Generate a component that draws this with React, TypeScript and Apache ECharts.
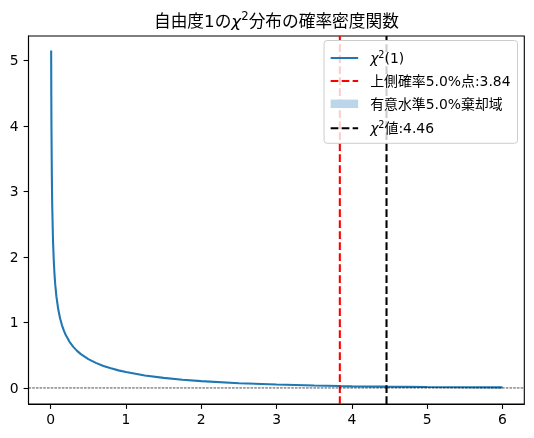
import React, { useEffect, useRef } from "react";
import * as echarts from "echarts";

// x values read along the curve and the density read at each of them
const xValues = [
  0.006, 0.008, 0.01, 0.015, 0.02, 0.03, 0.04, 0.05, 0.06, 0.075, 0.1, 0.125,
  0.15, 0.175, 0.2, 0.25, 0.3, 0.35, 0.4, 0.5, 0.6, 0.7, 0.8, 0.9, 1.0, 1.25,
  1.5, 1.75, 2.0, 2.5, 3.0, 3.5, 3.84, 4.0, 4.46, 5.0, 5.5, 6.0,
];
const densityValues = [
  5.15, 4.44, 3.97, 3.23, 2.79, 2.27, 1.96, 1.74, 1.58, 1.4, 1.2, 1.06,
  0.956, 0.874, 0.807, 0.704, 0.627, 0.566, 0.516, 0.439, 0.382, 0.336, 0.299,
  0.268, 0.242, 0.191, 0.154, 0.126, 0.104, 0.0723, 0.0514, 0.0371, 0.0298,
  0.027, 0.0203, 0.0146, 0.0109, 0.0081,
];
const criticalValue = 3.84;
const statisticValue = 4.46;
const xTicks = [0, 1, 2, 3, 4, 5, 6];
const yTicks = [0, 1, 2, 3, 4, 5];

const CURVE_NAME = "χ2(1)";
const CRIT_NAME = "上側確率5.0%点:3.84";
const REJECT_NAME = "有意水準5.0%棄却域";
const STAT_NAME = "χ2値:4.46";

const X_MIN = -0.295;
const X_MAX = 6.29;
const Y_MIN = -0.245;
const Y_MAX = 5.37;

const FONT = "'DejaVu Sans', 'Noto Sans CJK JP', sans-serif";
const BLUE = "#1f77b4";

export default function App() {
  const ref = useRef<HTMLDivElement>(null);

  useEffect(() => {
    if (!ref.current) return;
    const chart = echarts.init(ref.current, null, { renderer: "svg" });

    const curve = xValues.map((x, i) => [x, densityValues[i]]);
    const reject = curve.filter((p) => p[0] >= criticalValue);

    const legendRich = {
      t: { fontFamily: FONT, fontSize: 13.9, color: "#000", lineHeight: 17 },
      chi: {
        fontFamily: "'DejaVu Sans'",
        fontStyle: "italic",
        fontSize: 13.9,
        color: "#000",
        lineHeight: 17,
      },
      sup: {
        fontFamily: "'DejaVu Sans'",
        fontSize: 9.7,
        color: "#000",
        lineHeight: 11,
        verticalAlign: "top",
      },
    };

    const legendLabel = (name: string) => {
      if (name === CURVE_NAME) return "{chi|χ}{sup|2}{t|(1)}";
      if (name === STAT_NAME) return "{chi|χ}{sup|2}{t|値:4.46}";
      return "{t|" + name + "}";
    };

    const dashed = [7.7, 3.3];
    const noSymbol = { color: "transparent", borderColor: "transparent", borderWidth: 0 };

    chart.setOption({
      animation: false,
      grid: {
        left: 28.5,
        right: 9.7,
        top: 36,
        bottom: 34,
        show: true,
        borderColor: "#000",
        borderWidth: 1.1,
        backgroundColor: "transparent",
      },
      xAxis: {
        type: "value",
        min: X_MIN,
        max: X_MAX,
        axisLine: { show: true, onZero: false, lineStyle: { color: "#000", width: 1.1 } },
        axisTick: {
          show: true,
          inside: false,
          length: 4.9,
          lineStyle: { color: "#000", width: 1.1 },
          customValues: xTicks,
        },
        axisLabel: {
          show: true,
          customValues: xTicks,
          margin: 8,
          fontFamily: FONT,
          fontSize: 13.9,
          color: "#000",
        },
        splitLine: { show: false },
      },
      yAxis: {
        type: "value",
        min: Y_MIN,
        max: Y_MAX,
        axisLine: { show: true, onZero: false, lineStyle: { color: "#000", width: 1.1 } },
        axisTick: {
          show: true,
          inside: false,
          length: 4.9,
          lineStyle: { color: "#000", width: 1.1 },
          customValues: yTicks,
        },
        axisLabel: {
          show: true,
          customValues: yTicks,
          margin: 10,
          fontFamily: FONT,
          fontSize: 13.9,
          color: "#000",
        },
        splitLine: { show: false },
      },
      legend: {
        orient: "vertical",
        right: 16.5,
        top: 40.5,
        z: 20,
        itemWidth: 27.5,
        itemHeight: 8.5,
        itemGap: 9,
        padding: [9, 7, 8, 5.6],
        backgroundColor: "rgba(255,255,255,0.8)",
        borderColor: "#cccccc",
        borderWidth: 1,
        borderRadius: 3,
        selectedMode: false,
        textStyle: {
          fontFamily: FONT,
          fontSize: 13.9,
          color: "#000",
          padding: [0, 0, 0, 7],
          rich: legendRich,
        },
        formatter: legendLabel,
        data: [
          { name: CURVE_NAME, itemStyle: noSymbol },
          { name: CRIT_NAME, itemStyle: noSymbol },
          {
            name: REJECT_NAME,
            icon: "rect",
            itemStyle: { color: "#bbd6e9", borderWidth: 0, borderColor: "transparent" },
          },
          { name: STAT_NAME, itemStyle: noSymbol },
        ],
      },
      series: [
        {
          name: REJECT_NAME,
          type: "line",
          data: reject,
          showSymbol: false,
          symbol: "none",
          silent: true,
          z: 1,
          color: "rgba(31,119,180,0.3)",
          lineStyle: { width: 0 },
          areaStyle: { color: "rgba(31,119,180,0.3)", origin: 0 },
        },
        {
          name: CURVE_NAME,
          type: "line",
          data: curve,
          showSymbol: false,
          symbol: "none",
          silent: true,
          z: 2,
          color: BLUE,
          lineStyle: { color: BLUE, width: 2.08 },
        },
        {
          name: CRIT_NAME,
          type: "line",
          data: [
            [criticalValue, Y_MIN],
            [criticalValue, Y_MAX],
          ],
          showSymbol: false,
          symbol: "none",
          silent: true,
          z: 2,
          color: "#ff0000",
          lineStyle: { color: "#ff0000", width: 2.08, type: dashed },
        },
        {
          name: STAT_NAME,
          type: "line",
          data: [
            [statisticValue, Y_MIN],
            [statisticValue, Y_MAX],
          ],
          showSymbol: false,
          symbol: "none",
          silent: true,
          z: 2,
          color: "#000",
          lineStyle: { color: "#000", width: 2.08, type: dashed },
        },
        {
          name: "zero",
          type: "line",
          data: [
            [X_MIN, 0],
            [X_MAX, 0],
          ],
          showSymbol: false,
          symbol: "none",
          silent: true,
          z: 2,
          color: "#000",
          lineStyle: { color: "#000", width: 0.7, type: [2.6, 1.1] },
        },
      ],
      graphic: [
        {
          type: "text",
          x: 276.4,
          y: 10,
          silent: true,
          style: {
            text: "{t|自由度1の}{chi|χ}{sup|2}{t|分布の確率密度関数}",
            align: "center",
            verticalAlign: "top",
            rich: {
              t: { fontFamily: FONT, fontSize: 16.7, fill: "#000", lineHeight: 21 },
              chi: {
                fontFamily: "'DejaVu Sans'",
                fontStyle: "italic",
                fontSize: 16.7,
                fill: "#000",
                lineHeight: 21,
              },
              sup: {
                fontFamily: "'DejaVu Sans'",
                fontSize: 11.7,
                fill: "#000",
                lineHeight: 13,
                verticalAlign: "top",
              },
            },
          },
        },
      ],
    });

    return () => chart.dispose();
  }, []);

  return (
    <div
      ref={ref}
      style={{ position: "fixed", left: 0, top: 0, width: 534, height: 438 }}
    />
  );
}
